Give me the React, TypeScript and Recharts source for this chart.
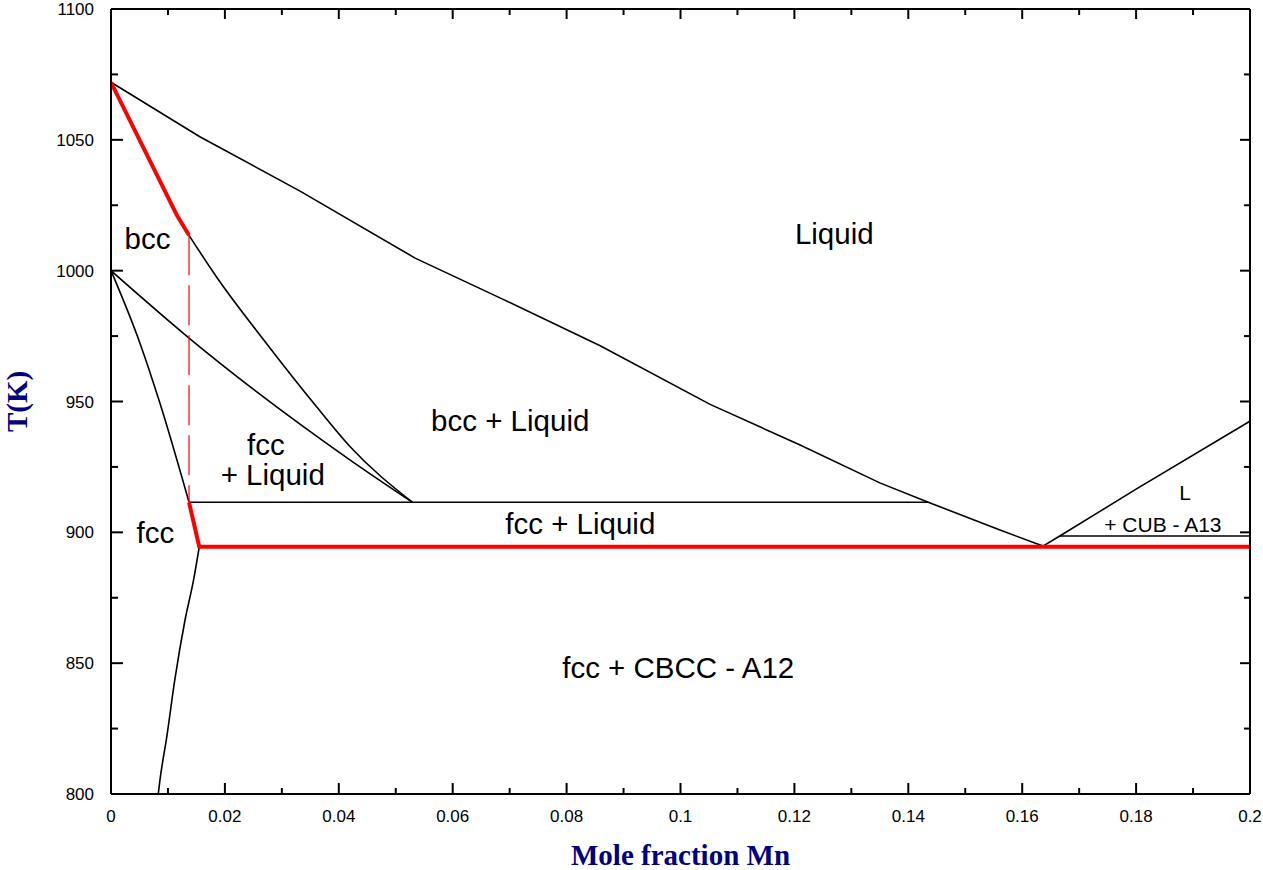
import React from 'react';
import { LineChart, Line, XAxis, YAxis, ReferenceDot } from 'recharts';

const FONT = '"Liberation Sans", Arial, Helvetica, sans-serif';
const SERIF = '"Liberation Serif", "Times New Roman", Times, serif';
const TITLE_COLOR = '#000080';

// Tick values
const xTicks = [0, 0.01, 0.02, 0.03, 0.04, 0.05, 0.06, 0.07, 0.08, 0.09, 0.1, 0.11, 0.12, 0.13, 0.14, 0.15, 0.16, 0.17, 0.18, 0.19, 0.2];
const yTicks = [800, 825, 850, 875, 900, 925, 950, 975, 1000, 1025, 1050, 1075, 1100];

// Phase boundaries (x = mole fraction Mn, t = temperature K)
const bccSolvusRed = [
  { x: 0, t: 1072 },
  { x: 0.0115, t: 1021.5 },
  { x: 0.0137, t: 1013.5 },
];
const bccDashed = [
  { x: 0.0137, t: 1013.5 },
  { x: 0.0137, t: 911.5 },
];
const fccEutecticRed = [
  { x: 0.0137, t: 911.5 },
  { x: 0.0155, t: 894.5 },
  { x: 0.2, t: 894.5 },
];
const liquidus = [
  { x: 0, t: 1072 },
  { x: 0.0156, t: 1051.2 },
  { x: 0.0332, t: 1030.4 },
  { x: 0.0534, t: 1004.8 },
  { x: 0.0683, t: 989.6 },
  { x: 0.0859, t: 971.3 },
  { x: 0.1052, t: 948.9 },
  { x: 0.121, t: 933.4 },
  { x: 0.135, t: 918.9 },
  { x: 0.1435, t: 911.5 },
  { x: 0.1561, t: 900.9 },
  { x: 0.1622, t: 895.9 },
  { x: 0.1637, t: 894.8 },
];
const bccLiquidus = [
  { x: 0.0137, t: 1013.5 },
  { x: 0.0185, t: 997.7 },
  { x: 0.0273, t: 972.2 },
  { x: 0.0361, t: 948 },
  { x: 0.042, t: 932.7 },
  { x: 0.0529, t: 911.5 },
];
const fccLiquidus = [
  { x: 0, t: 1000 },
  { x: 0.0135, t: 974.6 },
  { x: 0.042, t: 927.6 },
  { x: 0.0529, t: 911.5 },
];
const fccSolidus = [
  { x: 0, t: 1000 },
  { x: 0.0051, t: 972.2 },
  { x: 0.0086, t: 949.3 },
  { x: 0.0137, t: 911.5 },
];
const peritecticTie = [
  { x: 0.0137, t: 911.5 },
  { x: 0.1435, t: 911.5 },
];
const fccSolvus = [
  { x: 0.0083, t: 800 },
  { x: 0.0086, t: 805.4 },
  { x: 0.0098, t: 821.9 },
  { x: 0.0112, t: 843.6 },
  { x: 0.013, t: 866.5 },
  { x: 0.0145, t: 881.8 },
  { x: 0.0155, t: 894.5 },
];
const cubLiquidus = [
  { x: 0.1637, t: 894.8 },
  { x: 0.1666, t: 898.6 },
  { x: 0.18, t: 916.5 },
  { x: 0.2, t: 942.5 },
];
const cubTie = [
  { x: 0.1666, t: 898.6 },
  { x: 0.2, t: 898.6 },
];

// Region labels
const regionLabels = [
  { text: 'Liquid', x: 0.127, t: 1014.2, big: true },
  { text: 'bcc', x: 0.0064, t: 1012.3, big: true },
  { text: 'bcc + Liquid', x: 0.0701, t: 942.9, big: true },
  { text: 'fcc', x: 0.0272, t: 933.4, big: true },
  { text: '+ Liquid', x: 0.0284, t: 922.0, big: true },
  { text: 'fcc', x: 0.0078, t: 900.1, big: true },
  { text: 'fcc + Liquid', x: 0.0824, t: 903.2, big: true },
  { text: 'fcc + CBCC - A12', x: 0.0996, t: 848.5, big: true },
  { text: 'L', x: 0.1886, t: 915.2, big: false },
  { text: '+ CUB - A13', x: 0.1847, t: 903.0, big: false },
];

const fmt = (v: number) => String(parseFloat(v.toFixed(2)));
const isMajorX = (v: number) => Math.round(v * 100) % 2 === 0;
const isMajorY = (v: number) => Math.round(v) % 50 === 0;

const BottomTick = (props: any) => {
  const { x, y, payload } = props;
  const v = payload.value;
  const major = isMajorX(v);
  return (
    <g>
      <line x1={x} x2={x} y1={y} y2={y - (major ? 11 : 6)} stroke="#000" strokeWidth={2} />
      {major && (
        <text x={x} y={y + 28} textAnchor="middle" fontSize={17} fontFamily={FONT} fill="#000">
          {fmt(v)}
        </text>
      )}
    </g>
  );
};

const TopTick = (props: any) => {
  const { x, y, payload } = props;
  const major = isMajorX(payload.value);
  return <line x1={x} x2={x} y1={y} y2={y + (major ? 10 : 6)} stroke="#000" strokeWidth={2} />;
};

const LeftTick = (props: any) => {
  const { x, y, payload } = props;
  const v = payload.value;
  const major = isMajorY(v);
  return (
    <g>
      <line x1={x} x2={x + (major ? 12 : 7)} y1={y} y2={y} stroke="#000" strokeWidth={2} />
      {major && (
        <text x={x - 17} y={y + 6} textAnchor="end" fontSize={17} fontFamily={FONT} fill="#000">
          {String(v)}
        </text>
      )}
    </g>
  );
};

const RightTick = (props: any) => {
  const { x, y, payload } = props;
  const major = isMajorY(payload.value);
  return <line x1={x} x2={x - (major ? 10 : 6)} y1={y} y2={y} stroke="#000" strokeWidth={2} />;
};

const XTitle = (props: any) => {
  const vb = props.viewBox;
  return (
    <text
      x={vb.x + vb.width / 2}
      y={vb.y + 71}
      textAnchor="middle"
      fontSize={29}
      fontWeight="bold"
      fontFamily={SERIF}
      fill={TITLE_COLOR}
    >
      Mole fraction Mn
    </text>
  );
};

const YTitle = (props: any) => {
  const vb = props.viewBox;
  const cx = 27;
  const cy = vb.y + vb.height / 2;
  return (
    <text
      x={cx}
      y={cy}
      transform={`rotate(-90, ${cx}, ${cy})`}
      textAnchor="middle"
      fontSize={29}
      fontWeight="bold"
      fontFamily={SERIF}
      fill={TITLE_COLOR}
    >
      T(K)
    </text>
  );
};

const blackLine = (data: any[], key: string, curve: 'linear' | 'monotone') => (
  <Line
    key={key}
    data={data}
    dataKey="t"
    type={curve}
    stroke="#000"
    strokeWidth={1.6}
    dot={false}
    activeDot={false}
    isAnimationActive={false}
    xAxisId="bottom"
    yAxisId="left"
  />
);

export default function App() {
  return (
    <div style={{ position: 'absolute', left: 0, top: 0, width: 1263, height: 870, background: '#fff' }}>
      <LineChart width={1263} height={870} margin={{ top: 8, right: 12, bottom: 0, left: 0 }}>
        <XAxis
          xAxisId="bottom"
          dataKey="x"
          type="number"
          domain={[0, 0.2]}
          ticks={xTicks}
          interval={0}
          orientation="bottom"
          height={76}
          tickSize={0}
          tickMargin={0}
          tickLine={false}
          tick={<BottomTick />}
          axisLine={{ stroke: '#000', strokeWidth: 2 }}
          allowDataOverflow
          label={<XTitle />}
        />
        <XAxis
          xAxisId="top"
          dataKey="x"
          type="number"
          domain={[0, 0.2]}
          ticks={xTicks}
          interval={0}
          orientation="top"
          height={1}
          tickSize={0}
          tickMargin={0}
          tickLine={false}
          tick={<TopTick />}
          axisLine={{ stroke: '#000', strokeWidth: 2 }}
          allowDataOverflow
        />
        <YAxis
          yAxisId="left"
          type="number"
          domain={[800, 1100]}
          ticks={yTicks}
          interval={0}
          orientation="left"
          width={111}
          tickSize={0}
          tickMargin={0}
          tickLine={false}
          tick={<LeftTick />}
          axisLine={{ stroke: '#000', strokeWidth: 2 }}
          allowDataOverflow
          label={<YTitle />}
        />
        <YAxis
          yAxisId="right"
          type="number"
          domain={[800, 1100]}
          ticks={yTicks}
          interval={0}
          orientation="right"
          width={1}
          tickSize={0}
          tickMargin={0}
          tickLine={false}
          tick={<RightTick />}
          axisLine={{ stroke: '#000', strokeWidth: 2 }}
          allowDataOverflow
        />

        {blackLine(liquidus, 'liquidus', 'linear')}
        {blackLine(bccLiquidus, 'bccLiquidus', 'monotone')}
        {blackLine(fccLiquidus, 'fccLiquidus', 'monotone')}
        {blackLine(fccSolidus, 'fccSolidus', 'monotone')}
        {blackLine(peritecticTie, 'peritecticTie', 'linear')}
        {blackLine(fccSolvus, 'fccSolvus', 'monotone')}
        {blackLine(cubLiquidus, 'cubLiquidus', 'monotone')}
        {blackLine(cubTie, 'cubTie', 'linear')}

        <Line
          data={bccDashed}
          dataKey="t"
          type="linear"
          stroke="#ff0000"
          strokeWidth={1.2}
          strokeDasharray="40 10"
          dot={false}
          activeDot={false}
          isAnimationActive={false}
          xAxisId="bottom"
          yAxisId="left"
        />
        <Line
          data={bccSolvusRed}
          dataKey="t"
          type="linear"
          stroke="#ff0000"
          strokeWidth={4}
          strokeLinejoin="round"
          dot={false}
          activeDot={false}
          isAnimationActive={false}
          xAxisId="bottom"
          yAxisId="left"
        />
        <Line
          data={fccEutecticRed}
          dataKey="t"
          type="linear"
          stroke="#ff0000"
          strokeWidth={4}
          strokeLinejoin="round"
          dot={false}
          activeDot={false}
          isAnimationActive={false}
          xAxisId="bottom"
          yAxisId="left"
        />

        {regionLabels.map((l, i) => (
          <ReferenceDot
            key={i}
            x={l.x}
            y={l.t}
            r={0}
            xAxisId="bottom"
            yAxisId="left"
            fill="none"
            stroke="none"
            ifOverflow="visible"
            label={{
              value: l.text,
              position: 'center',
              fontSize: l.big ? 29.5 : 21,
              fontFamily: FONT,
              fill: '#000',
            }}
          />
        ))}
      </LineChart>
    </div>
  );
}
